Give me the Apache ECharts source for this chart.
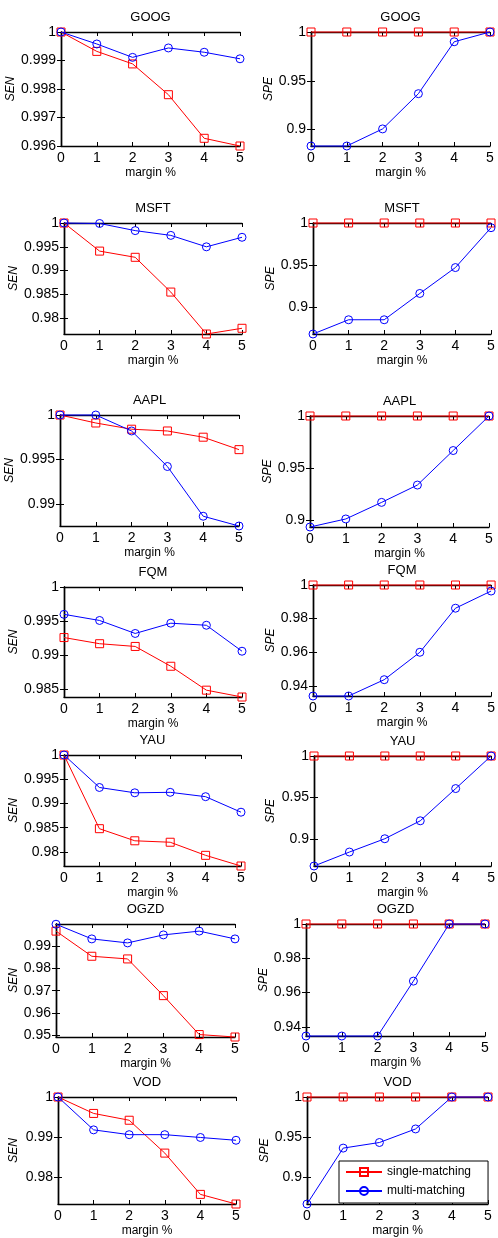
<!DOCTYPE html>
<html><head><meta charset="utf-8">
<script src="https://cdn.jsdelivr.net/npm/echarts@6/dist/echarts.min.js"></script>
<style>html,body{margin:0;padding:0;background:#fff}#c{width:498px;height:1238px}</style>
</head><body><div id="c"></div>
<script>
// ---- data ----
const margins = [0, 1, 2, 3, 4, 5];
const seriesNames = ['single-matching', 'multi-matching'];

const googSenSingle = [1, 0.99932, 0.99888, 0.9978, 0.99627, 0.996];
const googSenMulti  = [1, 0.99958, 0.99911, 0.99944, 0.99929, 0.99906];
const googSpeSingle = [1, 1, 1, 1, 1, 1];
const googSpeMulti  = [0.8832, 0.8832, 0.9007, 0.9368, 0.990, 1];

const msftSenSingle = [1, 0.9941, 0.9928, 0.9855, 0.9767, 0.9779];
const msftSenMulti  = [1, 0.9999, 0.9984, 0.9974, 0.9950, 0.9970];
const msftSpeSingle = [1, 1, 1, 1, 1, 1];
const msftSpeMulti  = [0.8675, 0.8845, 0.8845, 0.9159, 0.9468, 0.9944];

const aaplSenSingle = [1, 0.9991, 0.9984, 0.9982, 0.9975, 0.9961];
const aaplSenMulti  = [1, 1, 0.9982, 0.9942, 0.9886, 0.9875];
const aaplSpeSingle = [1, 1, 1, 1, 1, 1];
const aaplSpeMulti  = [0.8936, 0.9013, 0.9172, 0.9338, 0.9669, 1];

const fqmSenSingle = [0.9926, 0.9917, 0.9913, 0.9884, 0.9849, 0.9839];
const fqmSenMulti  = [0.9960, 0.9951, 0.9932, 0.9947, 0.9944, 0.9906];
const fqmSpeSingle = [1, 1, 1, 1, 1, 1];
const fqmSpeMulti  = [0.934, 0.934, 0.9437, 0.96, 0.9862, 0.9964];

const yauSenSingle = [1, 0.9848, 0.9823, 0.9820, 0.9793, 0.9771];
const yauSenMulti  = [1, 0.9933, 0.9922, 0.9923, 0.9914, 0.9882];
const yauSpeSingle = [1, 1, 1, 1, 1, 1];
const yauSpeMulti  = [0.8676, 0.8844, 0.9004, 0.922, 0.9608, 1];

const ogzdSenSingle = [0.9968, 0.9855, 0.9843, 0.9678, 0.9503, 0.9492];
const ogzdSenMulti  = [0.9999, 0.9933, 0.9915, 0.9951, 0.9968, 0.9933];
const ogzdSpeSingle = [1, 1, 1, 1, 1, 1];
const ogzdSpeMulti  = [0.9347, 0.9347, 0.9347, 0.9667, 1, 1];

const vodSenSingle = [1, 0.9959, 0.9942, 0.986, 0.9757, 0.9733];
const vodSenMulti  = [1, 0.9918, 0.9906, 0.9906, 0.9899, 0.9892];
const vodSpeSingle = [1, 1, 1, 1, 1, 1];
const vodSpeMulti  = [0.866, 0.936, 0.943, 0.960, 1, 1];

// y-axis ranges and tick labels
const googSenRange = [0.996, 1], googSenTicks = [0.996, 0.997, 0.998, 0.999, 1];
const googSpeRange = [0.8832, 1], googSpeTicks = [0.9, 0.95, 1];
const msftSenRange = [0.9767, 1], msftSenTicks = [0.98, 0.985, 0.99, 0.995, 1];
const msftSpeRange = [0.8675, 1], msftSpeTicks = [0.9, 0.95, 1];
const aaplSenRange = [0.9875, 1], aaplSenTicks = [0.99, 0.995, 1];
const aaplSpeRange = [0.8936, 1], aaplSpeTicks = [0.9, 0.95, 1];
const fqmSenRange = [0.9839, 1], fqmSenTicks = [0.985, 0.99, 0.995, 1];
const fqmSpeRange = [0.934, 1], fqmSpeTicks = [0.94, 0.96, 0.98, 1];
const yauSenRange = [0.9771, 1], yauSenTicks = [0.98, 0.985, 0.99, 0.995, 1];
const yauSpeRange = [0.8676, 1], yauSpeTicks = [0.9, 0.95, 1];
const ogzdSenRange = [0.9492, 1], ogzdSenTicks = [0.95, 0.96, 0.97, 0.98, 0.99];
const ogzdSpeRange = [0.9347, 1], ogzdSpeTicks = [0.94, 0.96, 0.98, 1];
const vodSenRange = [0.9733, 1], vodSenTicks = [0.98, 0.99, 1];
const vodSpeRange = [0.866, 1], vodSpeTicks = [0.9, 0.95, 1];

const panels = [
  {t:'GOOG', y:'SEN', s:googSenSingle, m:googSenMulti, r:googSenRange, k:googSenTicks},
  {t:'GOOG', y:'SPE', s:googSpeSingle, m:googSpeMulti, r:googSpeRange, k:googSpeTicks},
  {t:'MSFT', y:'SEN', s:msftSenSingle, m:msftSenMulti, r:msftSenRange, k:msftSenTicks},
  {t:'MSFT', y:'SPE', s:msftSpeSingle, m:msftSpeMulti, r:msftSpeRange, k:msftSpeTicks},
  {t:'AAPL', y:'SEN', s:aaplSenSingle, m:aaplSenMulti, r:aaplSenRange, k:aaplSenTicks},
  {t:'AAPL', y:'SPE', s:aaplSpeSingle, m:aaplSpeMulti, r:aaplSpeRange, k:aaplSpeTicks},
  {t:'FQM', y:'SEN', s:fqmSenSingle, m:fqmSenMulti, r:fqmSenRange, k:fqmSenTicks},
  {t:'FQM', y:'SPE', s:fqmSpeSingle, m:fqmSpeMulti, r:fqmSpeRange, k:fqmSpeTicks},
  {t:'YAU', y:'SEN', s:yauSenSingle, m:yauSenMulti, r:yauSenRange, k:yauSenTicks},
  {t:'YAU', y:'SPE', s:yauSpeSingle, m:yauSpeMulti, r:yauSpeRange, k:yauSpeTicks},
  {t:'OGZD', y:'SEN', s:ogzdSenSingle, m:ogzdSenMulti, r:ogzdSenRange, k:ogzdSenTicks},
  {t:'OGZD', y:'SPE', s:ogzdSpeSingle, m:ogzdSpeMulti, r:ogzdSpeRange, k:ogzdSpeTicks},
  {t:'VOD', y:'SEN', s:vodSenSingle, m:vodSenMulti, r:vodSenRange, k:vodSenTicks},
  {t:'VOD', y:'SPE', s:vodSpeSingle, m:vodSpeMulti, r:vodSpeRange, k:vodSpeTicks}
];

// ---- layout (pixels): [left, top, right edge, bottom edge] ----
const layout = [
  [61, 32, 240, 146], [311, 32, 490, 146],
  [64, 223, 242, 334], [313, 223, 491, 334],
  [60, 415, 239, 526], [310, 416, 489, 527],
  [64, 587, 242, 697], [313, 585, 492, 696],
  [64, 755, 241, 866], [314, 756, 492, 866],
  [56, 924, 235, 1037], [306, 924, 485, 1036],
  [58, 1097, 236, 1208], [307, 1097, 488, 1208]
];
const nameX = [14, 271];

const FONT = 'Liberation Sans';
const fmt = v => String(parseFloat(Number(v).toFixed(6)));
const axisLine = {show: true, lineStyle: {color: '#000', width: 1.4}};

const grid = [], xAxis = [], yAxis = [], series = [];
panels.forEach((p, i) => {
  const [l, t, r, b] = layout[i];
  grid.push({left: l, top: t, width: r - l, height: b - t, containLabel: false});
  const xb = {
    type: 'value', gridIndex: i, min: 0, max: 5, interval: 1,
    axisLine, splitLine: {show: false},
    axisTick: {show: true, inside: true, length: 4, lineStyle: {color: '#000'}}
  };
  xAxis.push(Object.assign({}, xb, {
    position: 'bottom',
    axisLabel: {show: true, color: '#000', fontFamily: FONT, fontSize: 14, margin: 5, formatter: fmt},
    name: 'margin %', nameLocation: 'middle', nameGap: 21,
    nameTextStyle: {color: '#000', fontFamily: FONT, fontSize: 12}
  }));
  xAxis.push(Object.assign({}, xb, {
    position: 'top', axisLabel: {show: false},
    name: p.t, nameLocation: 'middle', nameGap: 8,
    nameTextStyle: {color: '#000', fontFamily: FONT, fontSize: 13}
  }));
  const yb = {
    type: 'value', gridIndex: i, min: p.r[0], max: p.r[1],
    axisLine, splitLine: {show: false},
    axisTick: {show: true, inside: true, length: 4, lineStyle: {color: '#000'}, customValues: p.k}
  };
  yAxis.push(Object.assign({}, yb, {
    position: 'left',
    axisLabel: {show: true, color: '#000', fontFamily: FONT, fontSize: 14, margin: 5, formatter: fmt, customValues: p.k},
    name: p.y, nameLocation: 'middle', nameRotate: 90,
    nameGap: (l - nameX[i % 2]) - 6,
    nameTextStyle: {color: '#000', fontFamily: FONT, fontSize: 12, fontStyle: 'italic'}
  }));
  yAxis.push(Object.assign({}, yb, {position: 'right', axisLabel: {show: false}}));

  const pts = arr => margins.map((x, j) => [x, arr[j]]);
  series.push({
    name: seriesNames[0], type: 'line', xAxisIndex: 2 * i, yAxisIndex: 2 * i,
    data: pts(p.s), symbol: 'rect', symbolSize: 8, showAllSymbol: true,
    lineStyle: {color: '#ff0000', width: 1},
    itemStyle: {color: 'rgba(255,255,255,0)', borderColor: '#ff0000', borderWidth: 1},
    emphasis: {disabled: true}, animation: false, clip: false, z: 3
  });
  series.push({
    name: seriesNames[1], type: 'line', xAxisIndex: 2 * i, yAxisIndex: 2 * i,
    data: pts(p.m), symbol: 'circle', symbolSize: 8, showAllSymbol: true,
    lineStyle: {color: '#0000ff', width: 1},
    itemStyle: {color: 'rgba(255,255,255,0)', borderColor: '#0000ff', borderWidth: 1},
    emphasis: {disabled: true}, animation: false, clip: false, z: 4
  });
});

const chart = echarts.init(document.getElementById('c'), null, {renderer: 'canvas'});
chart.setOption({
  backgroundColor: '#fff',
  animation: false,
  grid, xAxis, yAxis, series,
  legend: {
    data: seriesNames, orient: 'vertical', left: 339, top: 1161,
    padding: [5, 17, 6, 6], itemGap: 7, itemWidth: 36, itemHeight: 10,
    borderColor: '#000', borderWidth: 1, backgroundColor: '#fff',
    textStyle: {color: '#000', fontFamily: FONT, fontSize: 12}, selectedMode: false
  }
});
</script>
</body></html>
